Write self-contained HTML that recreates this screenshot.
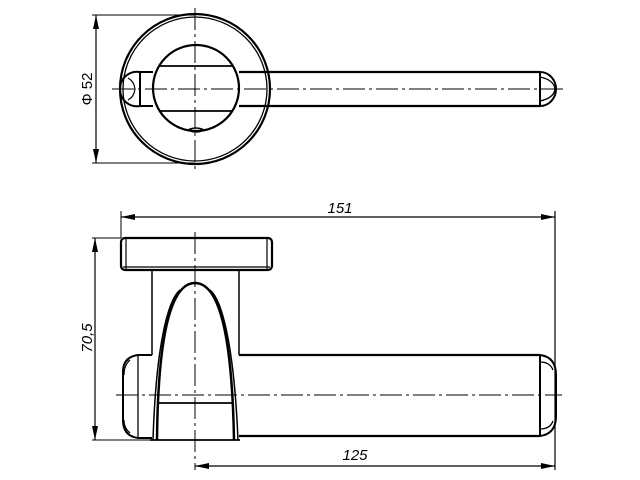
<!DOCTYPE html>
<html><head><meta charset="utf-8"><style>
html,body{margin:0;padding:0;background:#fff;}
svg{display:block;}
text{font-family:"Liberation Sans",sans-serif;font-style:italic;font-size:15px;fill:#000;}
</style></head><body>
<svg width="640" height="480" viewBox="0 0 640 480" xmlns="http://www.w3.org/2000/svg">
<defs>
<marker id="a" viewBox="0 0 14 6" refX="14" refY="3" markerWidth="14" markerHeight="6" orient="auto-start-reverse" markerUnits="userSpaceOnUse"><path d="M0,0 L14,3 L0,6 Z" fill="#000"/></marker>
</defs>
<g fill="none" stroke="#000">
<!-- TOP VIEW -->
<circle cx="195" cy="89" r="75" stroke-width="2.2"/>
<circle cx="195" cy="89" r="72" stroke-width="1.3"/>
<circle cx="196" cy="88" r="43" stroke-width="2.2"/>
<line x1="159" y1="66" x2="233" y2="66" stroke-width="1.8"/>
<line x1="159" y1="111" x2="233" y2="111" stroke-width="1.8"/>
<path d="M239,72 H540 M239,106 H540" stroke-width="2.2"/>
<path d="M540,72 A16,17 0 0 1 540,106" stroke-width="2"/>
<line x1="540" y1="72" x2="540" y2="106" stroke-width="2"/>
<path d="M540,77 Q554,80 555,89 Q554,98 540,101" stroke-width="1.3"/>
<path d="M153,72 H140 M153,106 H140" stroke-width="2"/>
<line x1="140" y1="72" x2="140" y2="106" stroke-width="2"/>
<path d="M140,72 A17,17 0 0 0 120,89 A17,17 0 0 0 140,106" stroke-width="2"/>
<path d="M128,78 Q134,81 135,89 Q134,97 128,100" stroke-width="1.2"/>
<path d="M188,130 Q196,126 204,130 Q196,134 188,130 Z" stroke-width="1.5"/>
<!-- center lines -->
<line x1="112" y1="89" x2="565" y2="89" stroke-width="1" stroke-dasharray="22,4,3,4"/>
<line x1="195" y1="8" x2="195" y2="172" stroke-width="1" stroke-dasharray="22,4,3,4"/>
<!-- dim phi52 -->
<path d="M92,15 H195 M92,163 H195" stroke-width="1"/>
<line x1="96" y1="15" x2="96" y2="163" stroke-width="1.2" marker-start="url(#a)" marker-end="url(#a)"/>

<!-- SIDE VIEW -->
<rect x="121" y="238" width="151" height="32" rx="4" stroke-width="2.2"/>
<line x1="126" y1="239" x2="126" y2="269" stroke-width="1.2"/>
<line x1="267" y1="239" x2="267" y2="269" stroke-width="1.2"/>
<line x1="123" y1="267" x2="270" y2="267" stroke-width="1.2"/>
<path d="M152,271 V355 M239,271 V355" stroke-width="1.5"/>
<path d="M152,355 V440 H239" stroke-width="0"/>
<path d="M157,440 C158,330 172,283 195,283 C218,283 232,330 234,440" stroke-width="2.5"/>
<path d="M153,440 C156,345 168,300 180,290" stroke-width="1.5"/>
<path d="M238,440 C234,345 222,300 210,290" stroke-width="1.5"/>
<line x1="157" y1="403" x2="233" y2="403" stroke-width="1.8"/>
<line x1="150" y1="440" x2="240" y2="440" stroke-width="1.8"/>
<!-- right lever -->
<path d="M239,355 H540 M239,436 H540" stroke-width="2.2"/>
<line x1="540" y1="355" x2="540" y2="436" stroke-width="2"/>
<path d="M540,355 Q556,357 556,375 V416 Q556,434 540,436" stroke-width="2"/>
<path d="M540,362 Q550,362 553,370 M540,429 Q550,429 553,421" stroke-width="1.3"/>
<!-- left knob -->
<path d="M152,355 H138 Q123,357 123,372 V420 Q123,436 138,438 H152" stroke-width="2"/>
<line x1="138" y1="356" x2="138" y2="437" stroke-width="1.3"/>
<path d="M130,360 Q124,365 124,375 M130,433 Q124,428 124,420" stroke-width="1.2"/>
<!-- center lines -->
<line x1="195" y1="232" x2="195" y2="470" stroke-width="1" stroke-dasharray="22,4,3,4"/>
<line x1="116" y1="395" x2="562" y2="395" stroke-width="1" stroke-dasharray="22,4,3,4"/>
<!-- dims -->
<line x1="121" y1="211" x2="121" y2="238" stroke-width="1"/>
<line x1="555" y1="211" x2="555" y2="470" stroke-width="1.2"/>
<line x1="121" y1="217" x2="555" y2="217" stroke-width="1.2" marker-start="url(#a)" marker-end="url(#a)"/>
<path d="M92,238 H121 M92,440 H150" stroke-width="1"/>
<line x1="95" y1="238" x2="95" y2="440" stroke-width="1.2" marker-start="url(#a)" marker-end="url(#a)"/>
<line x1="195" y1="466" x2="555" y2="466" stroke-width="1.2" marker-start="url(#a)" marker-end="url(#a)"/>
</g>
<text x="340" y="213" text-anchor="middle">151</text>
<text x="355" y="460" text-anchor="middle">125</text>
<text transform="translate(92,338) rotate(-90)" text-anchor="middle">70,5</text>
<text transform="translate(92,89) rotate(-90)" text-anchor="middle" style="font-style:normal">Φ 52</text>
</svg>
</body></html>
